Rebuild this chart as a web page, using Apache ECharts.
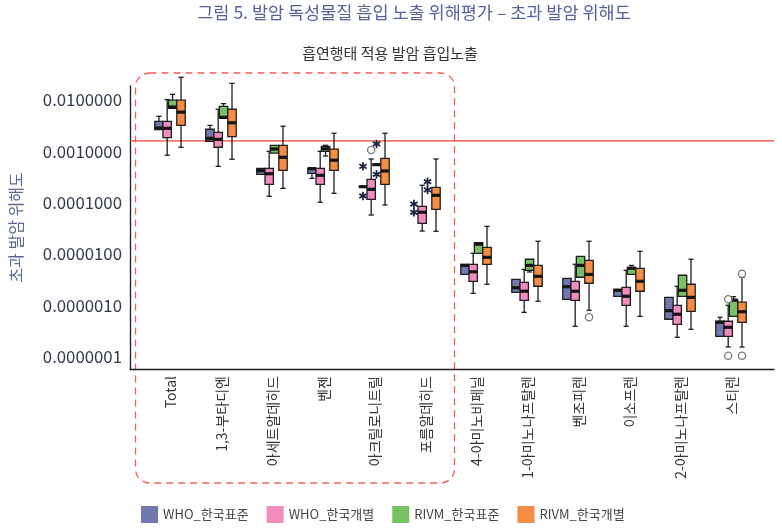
<!DOCTYPE html>
<html><head><meta charset="utf-8">
<script src="https://cdn.jsdelivr.net/npm/echarts@6/dist/echarts.min.js"></script>
<style>html,body{margin:0;padding:0;background:#fff}#c{width:782px;height:528px}</style>
</head><body><div id="c"></div>
<script>
// ---------------- DATA ----------------
const categories = ['Total','1,3-부타디엔','아세트알데히드','벤젠','아크릴로니트릴','포름알데히드',
  '4-아미노비페닐','1-아미노나프탈렌','벤조피렌','이소프렌','2-아미노나프탈렌','스티렌'];
const seriesNames = ['WHO_한국표준','WHO_한국개별','RIVM_한국표준','RIVM_한국개별'];
// each box: [min, q1, median, q3, max]; null = no box
const whoStandard = [
  [2.64e-3, 2.64e-3, 2.85e-3, 3.85e-3, 4.81e-3],
  [1.57e-3, 1.57e-3, 1.79e-3, 2.69e-3, 3.2e-3],
  [3.57e-4, 3.57e-4, 4.2e-4, 4.67e-4, 4.67e-4],
  [2.98e-4, 3.73e-4, 4.6e-4, 4.67e-4, 4.67e-4],
  [2.05e-4, 2.05e-4, 2.05e-4, 2.05e-4, 2.05e-4],
  null,
  [4.0e-6, 4.0e-6, 6.0e-6, 6.3e-6, 6.3e-6],
  [1.79e-6, 1.79e-6, 2.2e-6, 3.21e-6, 3.21e-6],
  [1.31e-6, 1.31e-6, 2.3e-6, 3.36e-6, 3.36e-6],
  [1.5e-6, 1.5e-6, 1.96e-6, 2.05e-6, 2.05e-6],
  [5.35e-7, 5.35e-7, 7.85e-7, 1.43e-6, 1.43e-6],
  [2.49e-7, 2.49e-7, 4.67e-7, 4.89e-7, 5.85e-7]
];
const whoIndividual = [
  [8.4e-4, 1.85e-3, 2.81e-3, 3.85e-3, 1.02e-2],
  [5.1e-4, 1.2e-3, 1.71e-3, 2.35e-3, 6.6e-3],
  [1.33e-4, 2.28e-4, 3.66e-4, 4.67e-4, 1.0e-3],
  [1.02e-4, 2.28e-4, 3.41e-4, 4.67e-4, 1.0e-3],
  [5.75e-5, 1.16e-4, 1.82e-4, 2.85e-4, 7.1e-4],
  [2.8e-5, 3.96e-5, 6.5e-5, 8.5e-5, 2.18e-4],
  [1.71e-6, 2.94e-6, 4.5e-6, 6.3e-6, 1.03e-5],
  [7.3e-7, 1.25e-6, 1.88e-6, 2.8e-6, 5.0e-6],
  [3.9e-7, 1.25e-6, 1.88e-6, 2.94e-6, 6.3e-6],
  [3.9e-7, 1.0e-6, 1.5e-6, 2.24e-6, 4.8e-6],
  [2.38e-7, 4.27e-7, 6.7e-7, 1.0e-6, 2.35e-6],
  [1.54e-7, 2.49e-7, 3.73e-7, 4.89e-7, 1.0e-6]
];
const rivmStandard = [
  [6.9e-3, 6.9e-3, 7.3e-3, 9.9e-3, 1.29e-2],
  [4.4e-3, 4.4e-3, 4.6e-3, 7.5e-3, 8.5e-3],
  [9.2e-4, 9.2e-4, 1.11e-3, 1.31e-3, 1.31e-3],
  [8.1e-4, 1.0e-3, 1.12e-3, 1.25e-3, 1.31e-3],
  [5.5e-4, 5.5e-4, 5.5e-4, 5.5e-4, 5.5e-4],
  null,
  [1.03e-5, 1.03e-5, 1.55e-5, 1.66e-5, 1.66e-5],
  [4.46e-6, 4.8e-6, 6.0e-6, 7.9e-6, 7.9e-6],
  [3.52e-6, 3.52e-6, 6.0e-6, 9.0e-6, 9.0e-6],
  [4.0e-6, 4.0e-6, 5.26e-6, 5.5e-6, 6.0e-6],
  [1.5e-6, 1.5e-6, 1.96e-6, 3.85e-6, 3.85e-6],
  [6.1e-7, 6.1e-7, 1.26e-6, 1.27e-6, 1.47e-6]
];
const rivmIndividual = [
  [1.2e-3, 3.2e-3, 5.8e-3, 9.9e-3, 2.77e-2],
  [7.0e-4, 1.93e-3, 3.6e-3, 6.6e-3, 2.11e-2],
  [1.9e-4, 4.27e-4, 7.65e-4, 1.31e-3, 3.08e-3],
  [1.52e-4, 4.27e-4, 6.7e-4, 1.1e-3, 2.25e-3],
  [9.0e-5, 2.28e-4, 4.14e-4, 7.3e-4, 2.25e-3],
  [2.77e-5, 7.4e-5, 1.39e-4, 1.99e-4, 7.1e-4],
  [2.57e-6, 6.3e-6, 8.6e-6, 1.35e-5, 3.46e-5],
  [1.2e-6, 2.35e-6, 3.67e-6, 6.0e-6, 1.77e-5],
  [8.0e-7, 2.69e-6, 4.0e-6, 7.5e-6, 1.77e-5],
  [6.1e-7, 1.88e-6, 2.94e-6, 5.26e-6, 1.13e-5],
  [3.41e-7, 7.65e-7, 1.43e-6, 2.57e-6, 7.9e-6],
  [1.54e-7, 4.67e-7, 7.5e-7, 1.15e-6, 3.52e-6]
];
// outliers (circles) and extreme values (asterisks): [category, value]
const whoStandardExtremes = [['아크릴로니트릴', 5.1e-4], ['아크릴로니트릴', 1.35e-4], ['포름알데히드', 9.4e-5], ['포름알데히드', 6.5e-5]];
const whoIndividualOutliers = [['아크릴로니트릴', 1.06e-3], ['스티렌', 1.31e-6], ['스티렌', 1.04e-7]];
const rivmStandardExtremes = [['아크릴로니트릴', 1.39e-3], ['아크릴로니트릴', 3.57e-4], ['포름알데히드', 2.56e-4], ['포름알데히드', 1.77e-4]];
const rivmIndividualOutliers = [['벤조피렌', 5.85e-7], ['스티렌', 4.13e-6], ['스티렌', 1.04e-7]];
const threshold = 0.0016;
const yAxisName = '초과 발암 위해도';
const titleText = '그림 5. 발암 독성물질 흡입 노출 위해평가 – 초과 발암 위해도';
const subtitleText = '흡연행태 적용 발암 흡입노출';

// ---------------- STYLE ----------------
const FONT = "'Noto Sans CJK KR', 'Noto Sans', sans-serif";
const colors = ['#7178ad', '#f18cbf', '#78c064', '#f68d45'];
const offsets = [-0.226, -0.065, 0.04, 0.206]; // fraction of band width
const BOX_W = 0.165;
const Y_MIN = 5.745e-8, Y_MAX = 0.01874;

function toBoxData(arr) {
  const out = [];
  arr.forEach((b, i) => { if (b) out.push([i].concat(b)); });
  return out;
}

function makeBoxRender(k) {
  return function (params, api) {
    const cat = api.value(0);
    const band = api.size([1, 0], [cat, 1e-3])[0];
    const med = api.coord([cat, api.value(3)]);
    const cx = med[0] + offsets[k] * band;
    const w = band * BOX_W;
    const yMin = api.coord([cat, api.value(1)])[1];
    const yQ1 = api.coord([cat, api.value(2)])[1];
    const yQ3 = api.coord([cat, api.value(4)])[1];
    const yMax = api.coord([cat, api.value(5)])[1];
    const cap = w * 0.62;
    const ls = { stroke: '#1e1e1e', lineWidth: 1.3 };
    const ch = [];
    if (yMax < yQ3 - 0.5) {
      ch.push({ type: 'line', shape: { x1: cx, y1: yQ3, x2: cx, y2: yMax }, style: ls });
      ch.push({ type: 'line', shape: { x1: cx - cap / 2, y1: yMax, x2: cx + cap / 2, y2: yMax }, style: ls });
    }
    if (yMin > yQ1 + 0.5) {
      ch.push({ type: 'line', shape: { x1: cx, y1: yQ1, x2: cx, y2: yMin }, style: ls });
      ch.push({ type: 'line', shape: { x1: cx - cap / 2, y1: yMin, x2: cx + cap / 2, y2: yMin }, style: ls });
    }
    ch.push({ type: 'rect', shape: { x: cx - w / 2, y: yQ3, width: w, height: Math.max(yQ1 - yQ3, 0) },
      style: { fill: api.visual('color'), stroke: '#1e1e1e', lineWidth: 1.3 } });
    ch.push({ type: 'line', shape: { x1: cx - w / 2, y1: med[1], x2: cx + w / 2, y2: med[1] },
      style: { stroke: '#151515', lineWidth: 3.2 } });
    return { type: 'group', children: ch };
  };
}

function makePointRender(k, kind) {
  return function (params, api) {
    const cat = api.value(0);
    const band = api.size([1, 0], [cat, 1e-3])[0];
    const p = api.coord([cat, api.value(1)]);
    const cx = p[0] + offsets[k] * band, cy = p[1];
    if (kind === 'circle') {
      return { type: 'circle', shape: { cx: cx, cy: cy, r: 3.6 },
        style: { fill: '#fff', stroke: '#7a7a7a', lineWidth: 1.3 } };
    }
    const r = 4.2;
    const st = { stroke: '#1f2548', lineWidth: 1.8 };
    const c = Math.cos(Math.PI / 6) * r, s = Math.sin(Math.PI / 6) * r;
    return { type: 'group', children: [
      { type: 'line', shape: { x1: cx, y1: cy - r, x2: cx, y2: cy + r }, style: st },
      { type: 'line', shape: { x1: cx - c, y1: cy - s, x2: cx + c, y2: cy + s }, style: st },
      { type: 'line', shape: { x1: cx - c, y1: cy + s, x2: cx + c, y2: cy - s }, style: st }
    ] };
  };
}

const boxSets = [whoStandard, whoIndividual, rivmStandard, rivmIndividual];
const pointSets = [
  [0, whoStandardExtremes, 'star'],
  [1, whoIndividualOutliers, 'circle'],
  [2, rivmStandardExtremes, 'star'],
  [3, rivmIndividualOutliers, 'circle']
];

const series = [{
  type: 'line', xAxisIndex: 0, yAxisIndex: 0, silent: true, symbol: 'none',
  data: [[0, threshold], [1, threshold]],
  lineStyle: { color: '#e8453c', width: 1.2 }, z: 1
}];
boxSets.forEach((arr, k) => {
  series.push({
    type: 'custom', name: seriesNames[k], xAxisIndex: 1, yAxisIndex: 1,
    itemStyle: { color: colors[k] },
    encode: { x: 0, y: [1, 2, 3, 4, 5] },
    renderItem: makeBoxRender(k),
    data: toBoxData(arr), z: 3
  });
});
pointSets.forEach(([k, arr, kind]) => {
  series.push({
    type: 'custom', xAxisIndex: 1, yAxisIndex: 1,
    encode: { x: 0, y: 1 },
    renderItem: makePointRender(k, kind),
    data: arr, z: 4
  });
});

const chart = echarts.init(document.getElementById('c'), null, { renderer: 'canvas' });
chart.setOption({
  animation: false,
  textStyle: { fontFamily: FONT },
  title: [
    { text: titleText, left: 414, top: 4, textAlign: 'center', padding: 0,
      textStyle: { fontSize: 17.5, color: '#56629a', fontWeight: 'normal', fontFamily: FONT } },
    { text: subtitleText, left: 390, top: 46, textAlign: 'center', padding: 0,
      textStyle: { fontSize: 15, color: '#333', fontWeight: 'normal', fontFamily: FONT } }
  ],
  legend: {
    data: seriesNames, left: 141, top: 506, padding: 0, icon: 'rect',
    itemWidth: 17, itemHeight: 17, itemGap: 18,
    textStyle: { fontSize: 13, color: '#444', fontFamily: FONT }
  },
  grid: [
    { left: 125, right: 8, top: 86, bottom: 159 },
    { left: 145, right: 25, top: 86, bottom: 159 }
  ],
  xAxis: [
    { type: 'value', gridIndex: 0, min: 0, max: 1,
      axisLine: { show: true, lineStyle: { color: '#1e1e1e', width: 1.3 } },
      axisTick: { show: false }, axisLabel: { show: false }, splitLine: { show: false } },
    { type: 'category', gridIndex: 1, data: categories,
      axisLine: { show: false }, axisTick: { show: false }, splitLine: { show: false },
      axisLabel: { interval: 0, rotate: 90, margin: 7, fontSize: 14, color: '#333', fontFamily: FONT } }
  ],
  yAxis: [
    { type: 'log', gridIndex: 0, min: Y_MIN, max: Y_MAX,
      name: yAxisName, nameLocation: 'middle', nameRotate: 90, nameGap: 106,
      nameTextStyle: { fontSize: 16, color: '#5a6796', fontFamily: FONT },
      axisLine: { show: true, lineStyle: { color: '#1e1e1e', width: 1.3 } },
      axisTick: { show: false }, splitLine: { show: false }, minorSplitLine: { show: false },
      axisLabel: { margin: 8, fontSize: 16.8, color: '#333a4d', fontFamily: FONT,
        showMinLabel: false, showMaxLabel: false,
        formatter: v => v.toFixed(7) } },
    { type: 'log', gridIndex: 1, min: Y_MIN, max: Y_MAX, show: false }
  ],
  series: series
});

// dashed highlight frame around the first six categories
const pA = chart.convertToPixel({ gridIndex: 1 }, [0, 1e-3]);
const pB = chart.convertToPixel({ gridIndex: 1 }, [5, 1e-3]);
chart.setOption({
  graphic: [{
    type: 'rect', z: 0, silent: true,
    shape: { x: pA[0] - 35, y: 73, width: (pB[0] + 29) - (pA[0] - 35), height: 410, r: 14 },
    style: { fill: 'none', stroke: '#f0605a', lineWidth: 1.3, lineDash: [7, 5] }
  }]
});
</script>
</body></html>
